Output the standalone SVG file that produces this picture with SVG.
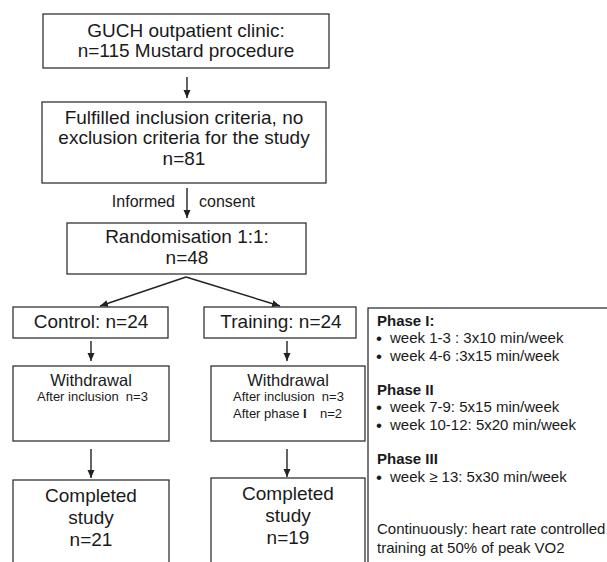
<svg xmlns="http://www.w3.org/2000/svg" width="607" height="562" viewBox="0 0 607 562">
<defs>
<style>
.box{fill:#fff;stroke:#333;stroke-width:1.3}
.t{font-family:"Liberation Sans",Arial,Helvetica,sans-serif;fill:#1a1a1a}
.big{font-size:19px;text-anchor:middle}
.mid{font-size:16.5px;text-anchor:middle}
.sm{font-size:13px}
.ph{font-size:15px}
.bu{font-size:17px}
.b{font-weight:bold}
.c{stroke:#222;stroke-width:1.4;fill:none}
</style>
<marker id="ah" markerUnits="userSpaceOnUse" markerWidth="9" markerHeight="8" refX="8" refY="3.5" orient="auto">
<path d="M0,0 L8,3.5 L0,7 z" fill="#222"/>
</marker>
</defs>
<rect width="607" height="562" fill="#fff"/>

<g id="connectors">
<line class="c" x1="187" y1="77" x2="187" y2="98" marker-end="url(#ah)"/>
<line class="c" x1="187" y1="188" x2="187" y2="218" marker-end="url(#ah)"/>
<line class="c" x1="186" y1="277" x2="100" y2="306" marker-end="url(#ah)"/>
<line class="c" x1="186" y1="277" x2="280" y2="306" marker-end="url(#ah)"/>
<line class="c" x1="91" y1="341" x2="91" y2="361" marker-end="url(#ah)"/>
<line class="c" x1="287" y1="341" x2="287" y2="361" marker-end="url(#ah)"/>
<line class="c" x1="91" y1="449" x2="91" y2="478" marker-end="url(#ah)"/>
<line class="c" x1="287" y1="449" x2="287" y2="477" marker-end="url(#ah)"/>
<text class="t" x="175" y="207" font-size="16" text-anchor="end">Informed</text>
<text class="t" x="199" y="207" font-size="16">consent</text>
</g>

<g id="clinic">
<rect class="box" x="43" y="14" width="286" height="54"/>
<text class="t big" x="186" y="37">GUCH outpatient clinic:</text>
<text class="t big" x="186" y="57">n=115 Mustard procedure</text>
</g>

<g id="inclusion">
<rect class="box" x="42" y="102" width="284" height="81"/>
<text class="t big" x="184" y="124">Fulfilled inclusion criteria, no</text>
<text class="t big" x="184" y="144">exclusion criteria for the study</text>
<text class="t big" x="184" y="165">n=81</text>
</g>

<g id="randomisation">
<rect class="box" x="67" y="223" width="239" height="51"/>
<text class="t big" x="187" y="243">Randomisation 1:1:</text>
<text class="t big" x="187" y="264">n=48</text>
</g>

<g id="control">
<rect class="box" x="13" y="307" width="155" height="31"/>
<text class="t big" x="91" y="328">Control: n=24</text>
</g>

<g id="training">
<rect class="box" x="204" y="307" width="152" height="31"/>
<text class="t big" x="281" y="328">Training: n=24</text>
</g>

<g id="withdrawal-control">
<rect class="box" x="13" y="366" width="156" height="75"/>
<text class="t mid" x="91" y="386">Withdrawal</text>
<text class="t sm" x="37" y="401" style="white-space:pre">After inclusion  n=3</text>
</g>

<g id="withdrawal-training">
<rect class="box" x="211" y="366" width="154" height="75"/>
<text class="t mid" x="288" y="386">Withdrawal</text>
<text class="t sm" x="233" y="401" style="white-space:pre">After inclusion  n=3</text>
<text class="t sm" x="233" y="418">After phase <tspan class="b">I</tspan></text>
<text class="t sm" x="320" y="418">n=2</text>
</g>

<g id="completed-control">
<rect class="box" x="13" y="480" width="156" height="100"/>
<text class="t big" x="91" y="502">Completed</text>
<text class="t big" x="91" y="524">study</text>
<text class="t big" x="91" y="546">n=21</text>
</g>

<g id="completed-training">
<rect class="box" x="211" y="478" width="154" height="100"/>
<text class="t big" x="288" y="500">Completed</text>
<text class="t big" x="288" y="522">study</text>
<text class="t big" x="288" y="544">n=19</text>
</g>

<g id="phases">
<rect class="box" x="368" y="308" width="260" height="270"/>
<text class="t ph b" x="377" y="326">Phase I:</text>
<text class="t bu" x="376" y="344">•</text>
<text class="t ph" x="390" y="343">week 1-3 : 3x10 min/week</text>
<text class="t bu" x="376" y="362">•</text>
<text class="t ph" x="390" y="361">week 4-6 :3x15 min/week</text>
<text class="t ph b" x="377" y="395">Phase II</text>
<text class="t bu" x="376" y="413">•</text>
<text class="t ph" x="390" y="412">week 7-9: 5x15 min/week</text>
<text class="t bu" x="376" y="431">•</text>
<text class="t ph" x="390" y="430">week 10-12: 5x20 min/week</text>
<text class="t ph b" x="377" y="464">Phase III</text>
<text class="t bu" x="376" y="483">•</text>
<text class="t ph" x="390" y="482">week ≥ 13: 5x30 min/week</text>
<text class="t ph" x="377" y="534">Continuously: heart rate controlled</text>
<text class="t ph" x="377" y="553">training at 50% of peak VO2</text>
</g>
</svg>
